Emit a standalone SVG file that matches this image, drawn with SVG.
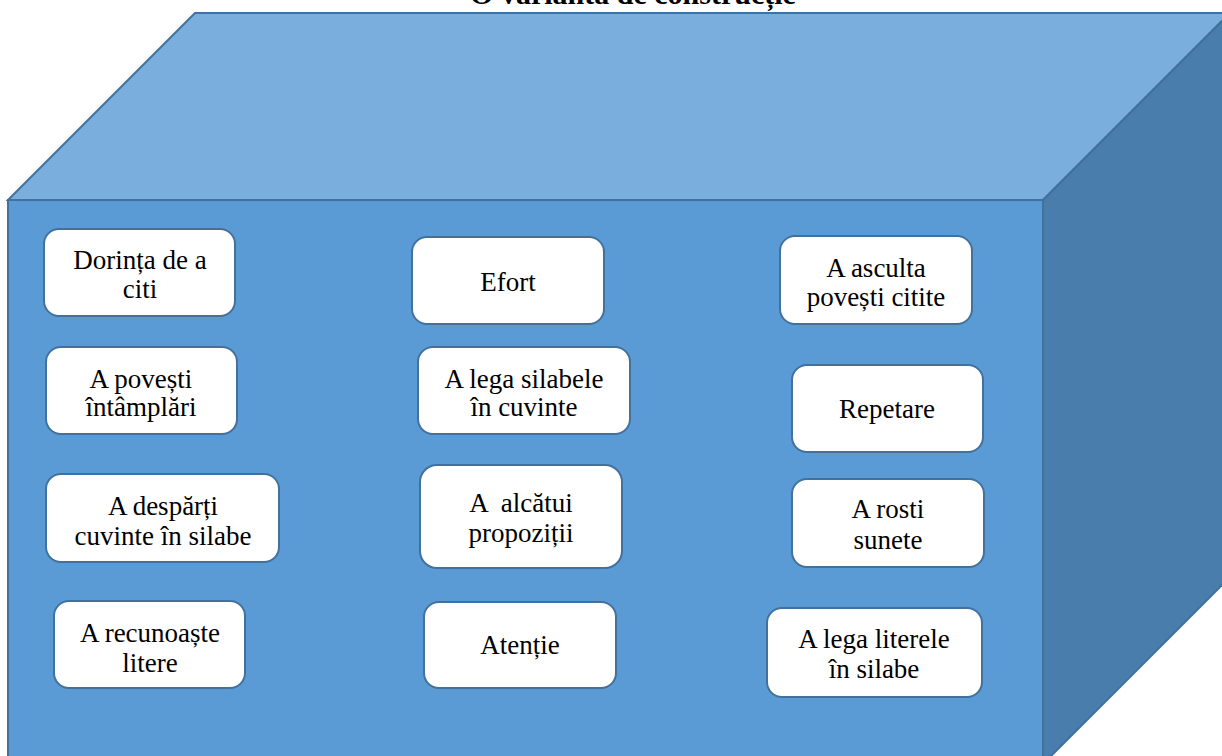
<svg xmlns="http://www.w3.org/2000/svg" width="1222" height="756" viewBox="0 0 1222 756">
<style>
.face{stroke:#41719c;stroke-width:2;stroke-linejoin:miter}
.box{fill:#ffffff;stroke:#41719c;stroke-width:2}
.t{font-family:'Liberation Serif','Times New Roman',serif;font-size:27px;fill:#000;text-anchor:middle}
.title{font-family:'Liberation Serif','Times New Roman',serif;font-size:30px;font-weight:bold;fill:#000;text-anchor:middle}
</style>
<rect width="1222" height="756" fill="#ffffff"/>
<text class="title" x="633" y="4">O variantă de construcție</text>
<g id="cube">
<polygon class="face" points="8,200 195,13 1230,13 1043,200" fill="#7aaedc"/>
<polygon class="face" points="8,200 1043,200 1043,764 8,764" fill="#5b9bd5"/>
<polygon class="face" points="1043,200 1230,13 1230,577 1043,764" fill="#497dac"/>
</g>
<g id="connectors"></g>
<g id="n1"><rect class="box" x="44" y="229" width="191" height="87" rx="15"/><text class="t" x="140" y="269">Dorința de a</text><text class="t" x="140" y="298">citi</text></g>
<g id="n2"><rect class="box" x="46" y="347" width="191" height="87" rx="15"/><text class="t" x="141" y="388">A povești</text><text class="t" x="141" y="416">întâmplări</text></g>
<g id="n3"><rect class="box" x="46" y="474" width="233" height="88" rx="15"/><text class="t" x="163" y="515">A despărți</text><text class="t" x="163" y="545">cuvinte în silabe</text></g>
<g id="n4"><rect class="box" x="54" y="601" width="191" height="87" rx="15"/><text class="t" x="150" y="642">A recunoaște</text><text class="t" x="150" y="672">litere</text></g>
<g id="n5"><rect class="box" x="412" y="237" width="192" height="87" rx="15"/><text class="t" x="508" y="291">Efort</text></g>
<g id="n6"><rect class="box" x="418" y="347" width="212" height="87" rx="15"/><text class="t" x="524" y="388">A lega silabele</text><text class="t" x="524" y="416">în cuvinte</text></g>
<g id="n7"><rect class="box" x="420" y="465" width="202" height="103" rx="17"/><text class="t" x="521" y="512" xml:space="preserve">A  alcătui</text><text class="t" x="521" y="542">propoziții</text></g>
<g id="n8"><rect class="box" x="424" y="602" width="192" height="86" rx="15"/><text class="t" x="520" y="654">Atenție</text></g>
<g id="n9"><rect class="box" x="780" y="236" width="192" height="88" rx="15"/><text class="t" x="876" y="277">A asculta</text><text class="t" x="876" y="306">povești citite</text></g>
<g id="n10"><rect class="box" x="792" y="365" width="191" height="87" rx="15"/><text class="t" x="887" y="418">Repetare</text></g>
<g id="n11"><rect class="box" x="792" y="479" width="192" height="88" rx="15"/><text class="t" x="888" y="518">A rosti</text><text class="t" x="888" y="549">sunete</text></g>
<g id="n12"><rect class="box" x="767" y="608" width="215" height="89" rx="15"/><text class="t" x="874" y="648">A lega literele</text><text class="t" x="874" y="678">în silabe</text></g>
</svg>
